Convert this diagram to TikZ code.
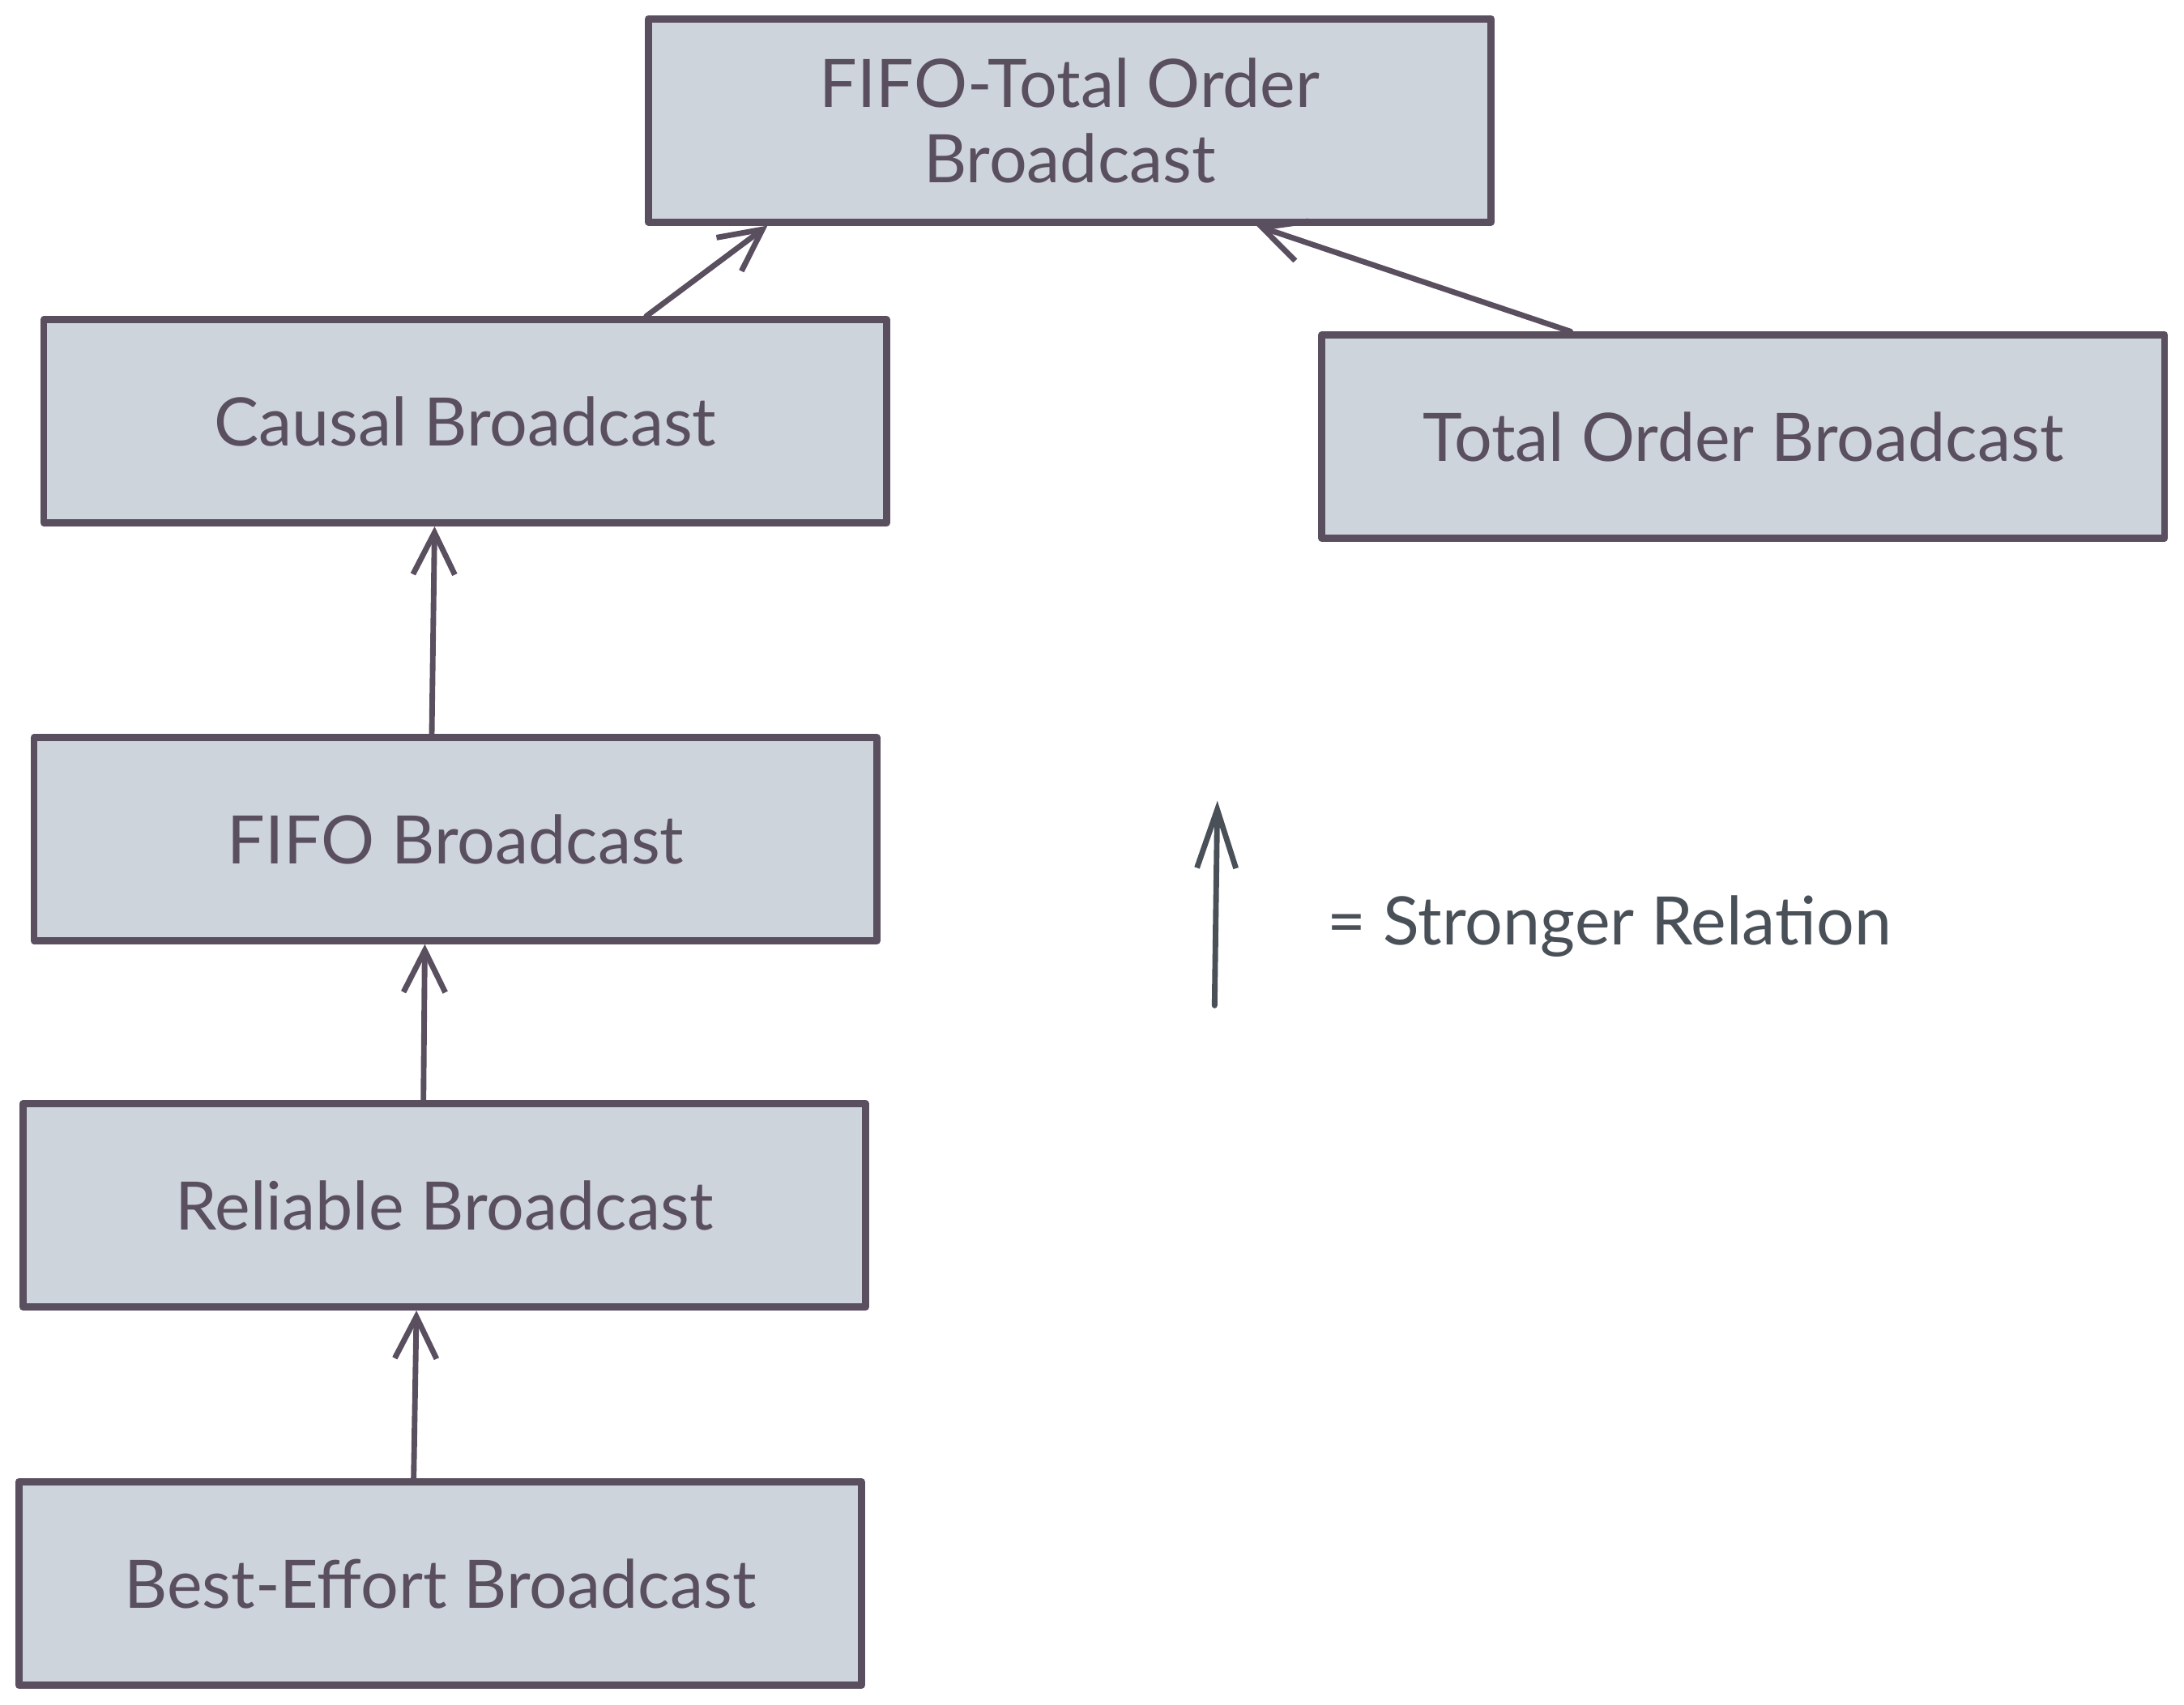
\documentclass[tikz,border=0pt]{standalone}
\usepackage{fontspec}
\setmainfont{Lato}
\usetikzlibrary{arrows.meta}
\definecolor{strokec}{HTML}{594F5F}
\definecolor{fillc}{HTML}{CED4DB}
\definecolor{legendc}{HTML}{495057}
\tikzset{
  box/.style={draw=strokec, fill=fillc, line width=5pt, rectangle, minimum width=605pt, minimum height=146pt, inner sep=0pt, text=strokec, font=\fontsize{48}{54}\selectfont, align=center, line join=round},
  rel/.style={draw=strokec, line width=4pt, line cap=round, line join=round, -{Straight Barb[length=30pt,width=30pt]}},
  legarrow/.style={draw=legendc, line width=4pt, line cap=round, line join=round, -{Straight Barb[length=42pt,width=28pt]}},
  legtext/.style={text=legendc, font=\fontsize{48}{54}\selectfont, anchor=west, inner sep=0pt}
}
\begin{document}
\begin{tikzpicture}[x=1pt,y=1pt]
\useasboundingbox (0,0) rectangle (1568,-1224);
\node[box] (A) at (768,-86.5) {FIFO-Total Order\\Broadcast};
\node[box] (B) at (334,-302.5) {Causal Broadcast};
\node[box] (C) at (1251.5,-313.5) {Total Order Broadcast};
\node[box] (D) at (327,-602.5) {FIFO Broadcast};
\node[box] (E) at (319,-865.5) {Reliable Broadcast};
\node[box] (F) at (316,-1137) {Best-Effort Broadcast};
\draw[rel] ([xshift=435pt]B.north west) -- ([xshift=88pt]A.south west);
\draw[rel] ([xshift=181pt]C.north west) -- ([xshift=439pt]A.south west);
\draw[rel] ([xshift=288pt]D.north west) -- ([xshift=283pt]B.south west);
\draw[rel] ([xshift=290pt]E.north west) -- ([xshift=283pt]D.south west);
\draw[rel] ([xshift=286pt]F.north west) -- ([xshift=285pt]E.south west);
\coordinate (L1) at (872,-722);
\coordinate (L2) at (874,-575);
\draw[legarrow] (L1) -- (L2);
\node[legtext] (LT) at (953,-665) {= Stronger Relation};
\end{tikzpicture}
\end{document}
